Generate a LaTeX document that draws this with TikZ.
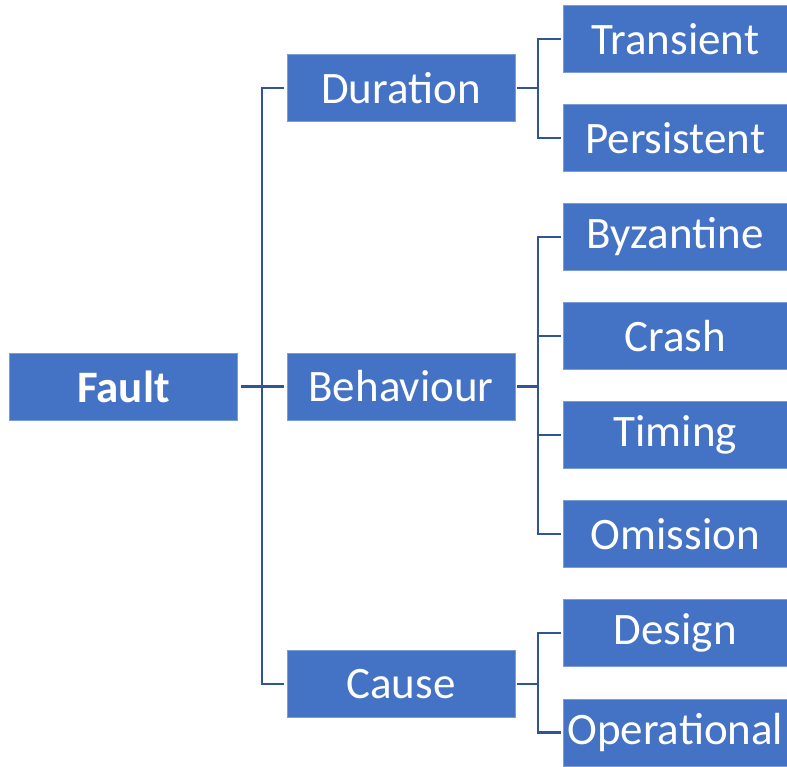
\documentclass[tikz,border=0pt]{standalone}
\usepackage{fontspec}
\setmainfont{Carlito}
\definecolor{boxblue}{HTML}{4472C4}
\definecolor{lineblue}{HTML}{2F5597}
\begin{document}
\begin{tikzpicture}[x=1pt,y=-1pt,
  box/.style={fill=boxblue,draw=boxblue!70!white,line width=0.8pt,text=white,inner sep=0pt,
    font=\fontsize{45}{49}\selectfont},
  rootbox/.style={box,minimum width=228pt,minimum height=67pt,font=\fontsize{45}{49}\selectfont\bfseries},
  midbox/.style={box,minimum width=228pt,minimum height=67pt},
  leafbox/.style={box,minimum width=223.5pt,minimum height=67pt},
  conn/.style={draw=lineblue,line width=2.4pt}]
\useasboundingbox (0,0) rectangle (787,766);
\node[rootbox] (fault) at (123.5,386.5) {Fault};
\node[midbox] (dur) at (401,88) {Duration};
\node[midbox] (beh) at (401,386.5) {Behaviour};
\node[midbox] (cause) at (401,684) {Cause};
\node[leafbox] (tra) at (675.25,39) {Transient};
\node[leafbox] (per) at (675.25,138) {Persistent};
\node[leafbox] (byz) at (675.25,237) {Byzantine};
\node[leafbox] (cra) at (675.25,336) {Crash};
\node[leafbox] (tim) at (675.25,435) {Timing};
\node[leafbox] (omi) at (675.25,534) {Omission};
\node[leafbox] (des) at (675.25,633) {Design};
\node[leafbox] (ope) at (675.25,732.5) {Operational};
% root junction
\coordinate (j1) at (262,386.5);
\draw[conn] ([xshift=3pt]fault.east) -- (j1);
\draw[conn] ([xshift=-3pt]dur.west) -| (j1) |- ([xshift=-3pt]cause.west);
\draw[conn] (j1) -- ([xshift=-3pt]beh.west);
% duration
\coordinate (jd) at (538,88);
\draw[conn] ([xshift=2pt]dur.east) -- (jd);
\draw[conn] ([xshift=-2pt]tra.west) -| (jd) |- ([xshift=-2pt]per.west);
% behaviour
\coordinate (jb) at (538,386.5);
\draw[conn] ([xshift=2pt]beh.east) -- (jb);
\draw[conn] ([xshift=-2pt]byz.west) -| (jb) |- ([xshift=-2pt]omi.west);
\draw[conn] ([xshift=-2pt]cra.west) -| (jb);
\draw[conn] ([xshift=-2pt]tim.west) -| (jb);
% cause
\coordinate (jc) at (538,684);
\draw[conn] ([xshift=2pt]cause.east) -- (jc);
\draw[conn] ([xshift=-2pt]des.west) -| (jc) |- ([xshift=-2pt]ope.west);
\end{tikzpicture}
\end{document}
